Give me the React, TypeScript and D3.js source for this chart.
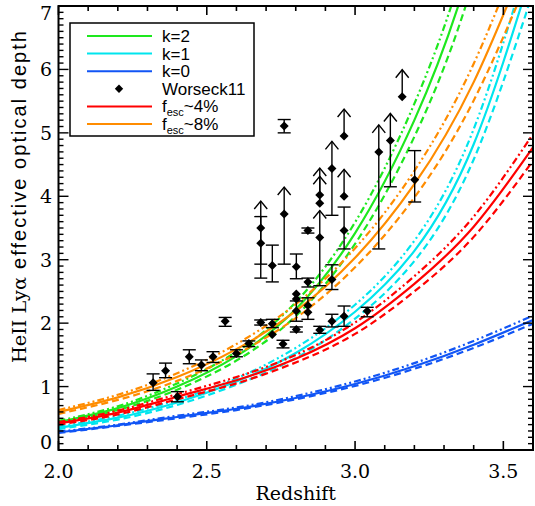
import React from 'react';
import * as d3 from 'd3';

const W = 535;
const H = 506;

// redshift grid at which the model curves were read
const zGrid = [2.0, 2.2, 2.4, 2.6, 2.8, 3.0, 3.2, 3.4, 3.6];

// k=2 (green)
const k2Solid = [0.44, 0.66, 1.0, 1.48, 2.22, 3.42, 5.2, 7.8, 11.7];
const k2Dash = [0.42, 0.63, 0.95, 1.41, 2.11, 3.25, 4.94, 7.41, 11.1];
const k2DashDot = [0.46, 0.69, 1.05, 1.55, 2.33, 3.59, 5.46, 8.19, 12.3];
// k=1 (cyan)
const k1Solid = [0.35, 0.51, 0.75, 1.08, 1.53, 2.18, 3.14, 4.82, 7.6];
const k1Dash = [0.33, 0.48, 0.71, 1.03, 1.45, 2.07, 2.98, 4.58, 7.22];
const k1DashDot = [0.37, 0.54, 0.79, 1.13, 1.61, 2.29, 3.3, 5.06, 7.98];
// k=0 (blue)
const k0Solid = [0.28, 0.39, 0.52, 0.65, 0.82, 1.04, 1.32, 1.66, 2.05];
const k0Dash = [0.27, 0.38, 0.5, 0.63, 0.8, 1.01, 1.28, 1.61, 1.99];
const k0DashDot = [0.29, 0.4, 0.54, 0.67, 0.85, 1.08, 1.37, 1.72, 2.12];
// fesc ~4% (red)
const f4Solid = [0.42, 0.59, 0.84, 1.1, 1.44, 1.92, 2.62, 3.52, 4.77];
const f4Dash = [0.4, 0.56, 0.8, 1.05, 1.38, 1.83, 2.5, 3.36, 4.56];
const f4DashDot = [0.44, 0.62, 0.88, 1.15, 1.5, 2.01, 2.74, 3.68, 4.98];
// fesc ~8% (orange)
const f8Solid = [0.6, 0.83, 1.15, 1.59, 2.19, 3.03, 4.19, 5.8, 8.01];
const f8Dash = [0.57, 0.79, 1.09, 1.51, 2.08, 2.88, 3.98, 5.51, 7.61];
const f8DashDot = [0.63, 0.87, 1.21, 1.67, 2.3, 3.18, 4.4, 6.09, 8.41];

// Worseck11 measurements
const obsZ = [2.319, 2.361, 2.401, 2.441, 2.482, 2.521, 2.562, 2.6, 2.642, 2.682,
  2.682, 2.682, 2.721, 2.721, 2.721, 2.757, 2.761, 2.761, 2.802, 2.802,
  2.802, 2.802, 2.802, 2.841, 2.841, 2.841, 2.841, 2.881, 2.881, 2.881,
  2.881, 2.922, 2.922, 2.922, 2.963, 2.963, 2.963, 2.963, 3.041, 3.08,
  3.119, 3.159, 3.201];
const obsTau = [1.06, 1.25, 0.84, 1.47, 1.34, 1.47, 2.03, 1.52, 1.68, 2.01,
  3.5, 3.26, 1.99, 1.82, 2.91, 1.67, 5.11, 3.72, 1.9, 2.19,
  2.38, 2.46, 2.89, 3.46, 2.65, 2.28, 2.17, 1.89, 3.35, 4.02,
  3.89, 2.69, 2.03, 4.44, 3.46, 2.11, 4.95, 4.0, 2.19, 4.7,
  4.88, 5.57, 4.26];
const obsLo = [0.94, 1.14, 0.76, 1.36, 1.25, 1.38, 1.95, 1.47, 1.63, 1.97,
  2.93, 2.71, 1.93, 1.82, 2.65, 1.61, 5.0, 2.93, 1.86, 2.03,
  2.38, 2.46, 2.7, 3.42, 2.57, 2.06, 2.17, 1.84, 2.59, 4.02,
  3.89, 2.53, 1.94, 3.7, 3.17, 1.95, 4.95, 4.0, 2.1, 3.17,
  4.15, 5.57, 3.91];
const obsHi = [1.2, 1.37, 0.92, 1.58, 1.42, 1.55, 2.09, 1.58, 1.72, 2.05,
  3.5, 3.68, 2.06, 1.82, 3.23, 1.73, 5.21, 3.72, 1.94, 2.35,
  2.38, 2.46, 3.09, 3.5, 2.71, 2.4, 2.17, 1.95, 3.35, 4.02,
  3.89, 2.92, 2.14, 4.44, 3.83, 2.27, 4.95, 4.0, 2.25, 4.7,
  4.88, 5.57, 4.72];
const obsLimit = [0, 0, 0, 0, 0, 0, 0, 0, 0, 0,
  1, 0, 0, 0, 0, 0, 0, 1, 0, 0,
  0, 0, 0, 0, 0, 0, 0, 0, 1, 1,
  1, 0, 0, 1, 0, 0, 1, 1, 0, 1,
  1, 1, 0];

const xMajor = [2.0, 2.5, 3.0, 3.5];
const xMajorLabels = ['2.0', '2.5', '3.0', '3.5'];
const yMajor = [0, 1, 2, 3, 4, 5, 6, 7];
const yMajorLabels = ['0', '1', '2', '3', '4', '5', '6', '7'];

const GREEN = '#1ee81e';
const CYAN = '#00e5ee';
const BLUE = '#1155f5';
const RED = '#ff0000';
const ORANGE = '#ff8c00';

const DASH = '7 4';
const DASHDOT = '7 3 2 3 2 3';

const families = [
  { color: GREEN, solid: k2Solid, dash: k2Dash, dashdot: k2DashDot },
  { color: CYAN, solid: k1Solid, dash: k1Dash, dashdot: k1DashDot },
  { color: BLUE, solid: k0Solid, dash: k0Dash, dashdot: k0DashDot },
  { color: RED, solid: f4Solid, dash: f4Dash, dashdot: f4DashDot },
  { color: ORANGE, solid: f8Solid, dash: f8Dash, dashdot: f8DashDot },
];

export default function App() {
  const x0 = 58.5, x1 = 533, y0 = 450, y1 = 6;
  const x = d3.scaleLinear().domain([2.0, 3.6]).range([x0, x1]);
  const y = d3.scaleLinear().domain([0, 7]).range([y0, y1]);

  const line = (vals: number[]) =>
    d3.line<number>()
      .x((_, i) => x(zGrid[i]))
      .y((v) => y(v))
      .curve(d3.curveNatural)(vals) || '';

  const xMinor = d3.range(20, 37).map((v) => v / 10);
  const yMinor = d3.range(0, 71).map((v) => v / 10);

  const diamond = (cx: number, cy: number, r = 4.5) =>
    `M${cx},${cy - r}L${cx + r},${cy}L${cx},${cy + r}L${cx - r},${cy}Z`;

  const legendRows = [
    { type: 'line', color: GREEN, label: 'k=2' },
    { type: 'line', color: CYAN, label: 'k=1' },
    { type: 'line', color: BLUE, label: 'k=0' },
    { type: 'pt', color: '#000', label: 'Worseck11' },
    { type: 'line', color: RED, label: '4%' },
    { type: 'line', color: ORANGE, label: '8%' },
  ];

  return (
    <svg width={W} height={H} style={{ position: 'absolute', left: 0, top: 0, background: '#fff' }}
      xmlns="http://www.w3.org/2000/svg">
      <defs>
        <clipPath id="plotclip">
          <rect x={x0} y={y1} width={x1 - x0} height={y0 - y1} />
        </clipPath>
      </defs>
      <rect x={0} y={0} width={W} height={H} fill="#fff" />

      {/* model curves */}
      <g clipPath="url(#plotclip)" fill="none" strokeWidth={2.2}>
        {families.map((f, i) => (
          <g key={i} stroke={f.color}>
            <path d={line(f.dashdot)} strokeDasharray={DASHDOT} />
            <path d={line(f.dash)} strokeDasharray={DASH} />
            <path d={line(f.solid)} />
          </g>
        ))}
      </g>

      {/* data */}
      <g stroke="#000" strokeWidth={1.4} fill="none">
        {obsZ.map((z, i) => {
          const cx = x(z);
          const cy = y(obsTau[i]);
          const els: any[] = [];
          const lo = y(obsLo[i]);
          const hi = y(obsHi[i]);
          if (obsLimit[i]) {
            const tip = cy - 27;
            els.push(<line key="a" x1={cx} x2={cx} y1={cy} y2={tip} />);
            els.push(<path key="c" d={`M${cx - 6.5},${tip + 8}L${cx},${tip}L${cx + 6.5},${tip + 8}`} />);
            if (lo - cy > 1) {
              els.push(<line key="d" x1={cx} x2={cx} y1={cy} y2={lo} />);
              els.push(<line key="e" x1={cx - 6.5} x2={cx + 6.5} y1={lo} y2={lo} />);
            }
          } else if (lo - hi > 1) {
            els.push(<line key="b" x1={cx} x2={cx} y1={hi} y2={lo} />);
            els.push(<line key="t" x1={cx - 6.5} x2={cx + 6.5} y1={hi} y2={hi} />);
            els.push(<line key="u" x1={cx - 6.5} x2={cx + 6.5} y1={lo} y2={lo} />);
          }
          return <g key={i}>{els}</g>;
        })}
        {obsZ.map((z, i) => (
          <path key={'p' + i} d={diamond(x(z), y(obsTau[i]))} fill="#000" stroke="none" />
        ))}
      </g>

      {/* frame & ticks */}
      <g stroke="#000" strokeWidth={2} fill="none">
        <rect x={x0} y={y1} width={x1 - x0} height={y0 - y1} />
        {xMinor.map((v, i) => {
          const major = Math.abs(v * 2 - Math.round(v * 2)) < 1e-6;
          const len = major ? 9 : 5;
          return (
            <g key={'xt' + i}>
              <line x1={x(v)} x2={x(v)} y1={y0} y2={y0 - len} strokeWidth={1.6} />
              <line x1={x(v)} x2={x(v)} y1={y1} y2={y1 + len} strokeWidth={1.6} />
            </g>
          );
        })}
        {yMinor.map((v, i) => {
          const major = Math.abs(v - Math.round(v)) < 1e-6;
          const len = major ? 10 : 5;
          return (
            <g key={'yt' + i}>
              <line x1={x0} x2={x0 + len} y1={y(v)} y2={y(v)} strokeWidth={1.4} />
              <line x1={x1} x2={x1 - len} y1={y(v)} y2={y(v)} strokeWidth={1.4} />
            </g>
          );
        })}
      </g>

      {/* tick labels */}
      <g fontFamily="DejaVu Serif" fontSize={19} fill="#000">
        {xMajor.map((v, i) => (
          <text key={'xl' + i} x={x(v)} y={478} textAnchor="middle">{xMajorLabels[i]}</text>
        ))}
        {yMajor.map((v, i) => (
          <text key={'yl' + i} x={52} y={Math.min(Math.max(y(v) + 7, 20), 449)} textAnchor="end">{yMajorLabels[i]}</text>
        ))}
        <text x={(x0 + x1) / 2} y={500} textAnchor="middle">Redshift</text>
      </g>

      {/* y title */}
      <g transform="translate(26, 363) rotate(-90)" fill="#000">
        <text x={0} y={0} fontFamily="DejaVu Serif" fontSize={18} textLength={86} lengthAdjust="spacingAndGlyphs">HeII Lyα</text>
        <text x={94} y={0} fontFamily="Liberation Sans" fontSize={20} textLength={238} lengthAdjust="spacing">effective optical depth</text>
      </g>

      {/* legend */}
      <g>
        <rect x={70} y={23} width={184} height={113} fill="#fff" stroke="#000" strokeWidth={1.5} />
        {legendRows.map((r, i) => {
          const cy = 36 + i * 17.6;
          return (
            <g key={'lg' + i}>
              {r.type === 'line' ? (
                <line x1={87} x2={152} y1={cy} y2={cy} stroke={r.color} strokeWidth={2} />
              ) : (
                <path d={diamond(119, cy, 4.2)} fill="#000" />
              )}
              {i < 4 ? (
                <text x={162} y={cy + 6} fontFamily="Liberation Sans" fontSize={17} fill="#000">{r.label}</text>
              ) : (
                <text x={162} y={cy + 6} fontFamily="Liberation Sans" fontSize={17} fill="#000">
                  f<tspan fontSize={11} dy={4}>esc</tspan><tspan dy={-4}>~{r.label}</tspan>
                </text>
              )}
            </g>
          );
        })}
      </g>
    </svg>
  );
}
